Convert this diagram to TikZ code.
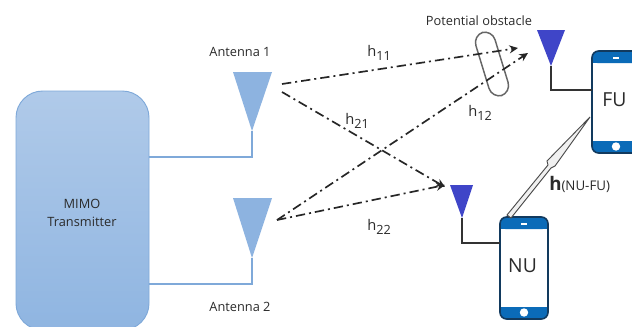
\documentclass[tikz,border=0pt]{standalone}
\usepackage{fontspec}
\setmainfont{Open Sans}
\usetikzlibrary{arrows.meta,shadings}
\definecolor{txtop}{HTML}{B0CAE9}
\definecolor{txbot}{HTML}{8FB5E1}
\definecolor{txedge}{HTML}{7FA9D9}
\definecolor{antA}{HTML}{8DB3E0}
\definecolor{antB}{HTML}{3F45C8}
\definecolor{phoneedge}{HTML}{123A5E}
\definecolor{phonebar}{HTML}{0B6BB8}
\definecolor{inktxt}{HTML}{2B2B2B}
\newcommand{\hsub}[2]{h\raisebox{-0.5ex}{\fontsize{9.5}{10}\selectfont #2}}
\tikzset{
  lab/.style={font=\fontsize{9.6}{13.5}\selectfont,text=inktxt,inner sep=0pt},
  hlab/.style={font=\fontsize{11}{12}\selectfont,text=inktxt,inner sep=0pt},
  feedA/.style={draw=txedge,line width=0.8pt},
  feedB/.style={draw=black!80,line width=0.8pt},
  ray/.style={draw=black!85,line width=1.25pt,dash pattern=on 7pt off 3pt on 1.5pt off 3pt,-{Stealth[length=6.5pt,width=6pt]}},
}
\newcommand{\phone}[3]{% x, y, name
  \fill[white,rounded corners=4pt] (#1,#2) rectangle ++(48,102);
  \fill[phonebar,rounded corners=4pt] (#1,#2) rectangle ++(48,12);
  \fill[phonebar] (#1,#2+6) rectangle ++(48,6);
  \fill[phonebar,rounded corners=4pt] (#1,#2+102) rectangle ++(48,-12);
  \fill[phonebar] (#1,#2+90) rectangle ++(48,6);
  \fill[white] (#1+24,#2+95.5) circle[radius=4.2];
  \fill[white] (#1+21,#2+6) rectangle ++(6,1.6);
  \draw[phoneedge,line width=1.2pt,rounded corners=5pt] (#1,#2) rectangle ++(48,102);
  \node[font=\fontsize{14.5}{16}\selectfont,text=inktxt,inner sep=0pt] (#3) at (#1+22.5,#2+49) {#3};
}
\begin{document}
\begin{tikzpicture}[x=0.75pt,y=-0.75pt]
\useasboundingbox (0,0) rectangle (632,326);
\clip (0,0) rectangle (632,326);
\fill[white] (0,0) rectangle (632,326);

% transmitter
\draw[draw=txedge,line width=0.7pt,top color=txtop,bottom color=txbot,rounded corners=20pt] (16,91) rectangle (149,330);
\node[lab,align=center] (tx) at (82,213) {MIMO\\Transmitter};
\coordinate (txa) at (149,157);
\coordinate (txb) at (149,284);

% big antennas
\coordinate (a1tl) at (233,72); \coordinate (a1tr) at (272,72); \coordinate (a1) at (252,131);
\coordinate (a2tl) at (233,198); \coordinate (a2tr) at (272,198); \coordinate (a2) at (252,258);
\fill[antA] (a1tl) -- (a1tr) -- (a1) -- cycle;
\fill[antA] (a2tl) -- (a2tr) -- (a2) -- cycle;
\draw[feedA] (txa) -| (a1);
\draw[feedA] (txb) -| (a2);
\node[lab] (ant1) at (240,52) {Antenna 1};
\node[lab] (ant2) at (240,307) {Antenna 2};

% phones
\phone{592}{51}{FU}
\phone{500}{217}{NU}

% small antennas
\coordinate (futl) at (537,30); \coordinate (futr) at (565,30); \coordinate (fua) at (551,66);
\coordinate (nutl) at (450,185); \coordinate (nutr) at (473,185); \coordinate (nua) at (462,218);
\fill[antB] (futl) -- (futr) -- (fua) -- cycle;
\fill[antB] (nutl) -- (nutr) -- (nua) -- cycle;
\coordinate (fup) at (592,90);
\coordinate (nup) at (500,243);
\draw[feedB] (fua) |- (fup);
\draw[feedB] (nua) |- (nup);

% obstacle
\draw[draw=black!60,line width=1.1pt,rotate around={17:(492,64)},rounded corners=8pt] (482,31) rectangle (502,97);

% rays
\coordinate (s11) at (282,84); \coordinate (e11) at (518,48);
\coordinate (s21) at (282,92); \coordinate (e21) at (445,187);
\coordinate (s12) at (277,220); \coordinate (e12) at (528,53);
\coordinate (s22) at (277,220); \coordinate (e22) at (445,185);
\draw[ray] (s11) -- (e11);
\draw[ray] (s21) -- (e21);
\draw[ray] (s12) -- (e12);
\draw[ray] (s22) -- (e22);

% needle link
\coordinate (nl) at (507,215); \coordinate (nr) at (511,218);
\coordinate (ml) at (548,165); \coordinate (mr) at (551,168);
\coordinate (cl) at (547,161); \coordinate (cr) at (555,166);
\coordinate (tip) at (590,117);
\filldraw[draw=black!70,fill=black!6,line width=0.7pt] (nl) -- (ml) -- (cl) -- (tip) -- (cr) -- (mr) -- (nr) -- cycle;

% labels
\node[lab] (obst) at (479,21) {Potential obstacle};
\node[hlab] (h11) at (379,53) {\hsub{h}{11}};
\node[hlab] (h21) at (357,121) {\hsub{h}{21}};
\node[hlab] (h12) at (480,113) {\hsub{h}{12}};
\node[hlab] (h22) at (379,227) {\hsub{h}{22}};
\node[inner sep=0pt,text=inktxt,anchor=west] (hnf) at (549,184) {\fontsize{14}{15}\selectfont\textbf{h}\fontsize{10}{12}\selectfont(NU-FU)};
\end{tikzpicture}
\end{document}
